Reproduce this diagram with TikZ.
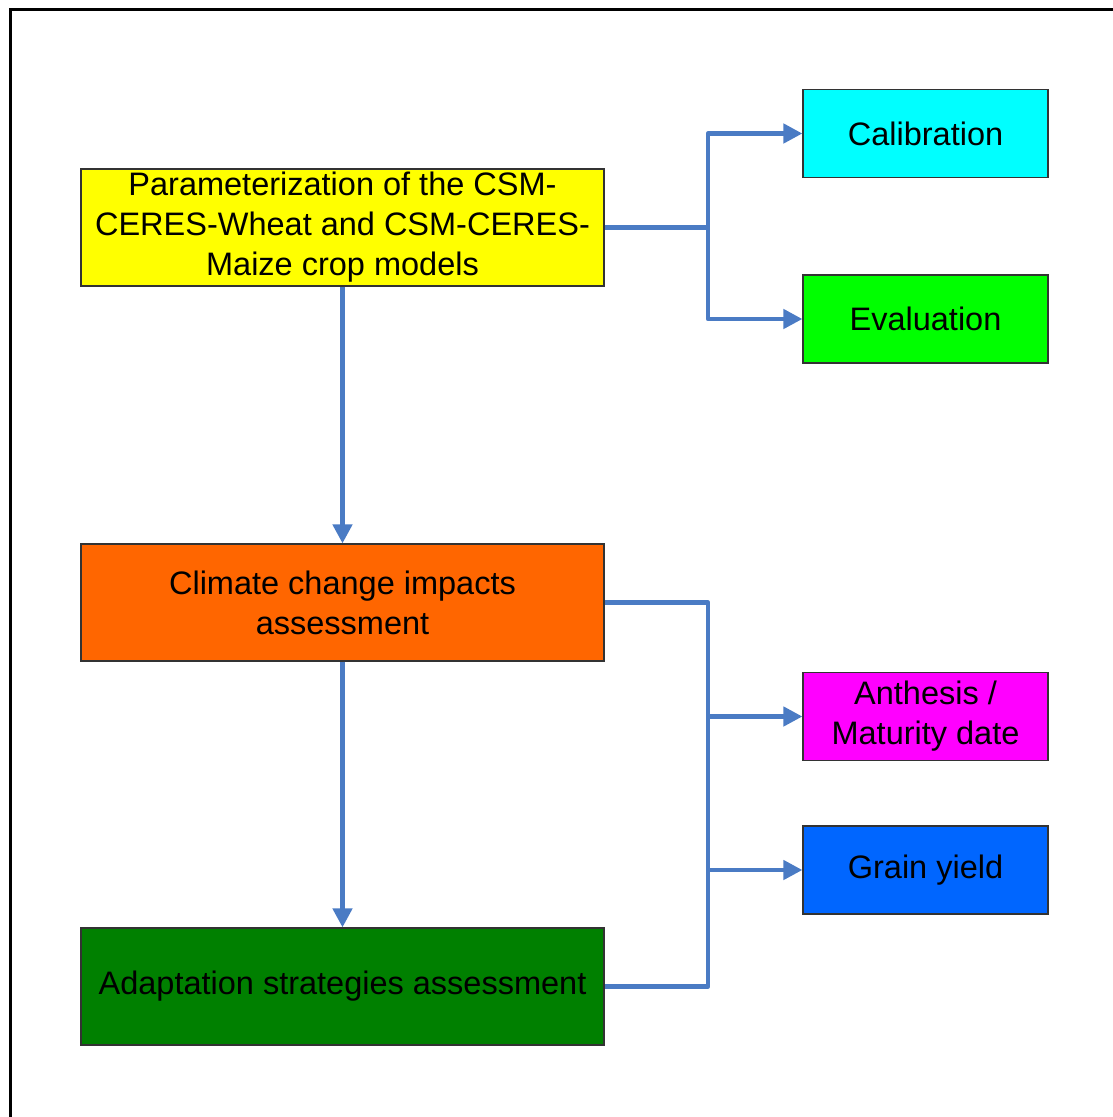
\documentclass[tikz,border=0pt]{standalone}
\usepackage{fontspec}
\setmainfont{Liberation Sans}
\usetikzlibrary{arrows.meta}
\definecolor{linkblue}{HTML}{4A7BC4}
\definecolor{paramyellow}{HTML}{FFFF00}
\definecolor{climorange}{HTML}{FF6600}
\definecolor{adaptgreen}{HTML}{008000}
\definecolor{calcyan}{HTML}{00FFFF}
\definecolor{evalgreen}{HTML}{00FF00}
\definecolor{anthmagenta}{HTML}{FF00FF}
\definecolor{grainblue}{HTML}{0066FF}
\begin{document}
\begin{tikzpicture}[x=1pt,y=-1pt,
  mainbox/.style={draw=black!80, line width=1.2pt, minimum width=523pt, minimum height=117pt,
    align=center, inner sep=0pt, font=\fontsize{32.5}{40}\selectfont},
  sidebox/.style={draw=black!80, line width=1.2pt, minimum width=245pt, minimum height=88pt,
    align=center, inner sep=0pt, font=\fontsize{32.5}{40}\selectfont},
  link/.style={draw=linkblue, line width=4.5pt, line join=round},
  linkarrow/.style={link, -{Triangle[length=19pt,width=19pt]}}]
\useasboundingbox (0,0) rectangle (1112,1117);
% outer frame
\draw[line width=3pt] (10.5,1140) -- (10.5,9.5) -- (1140,9.5);
% main column
\node[mainbox, fill=paramyellow] (param) at (342.5,227.5)
  {Parameterization of the CSM-\\CERES-Wheat and CSM-CERES-\\Maize crop models};
\node[mainbox, fill=climorange] (clim) at (342.5,602.5)
  {Climate change impacts\\assessment};
\node[mainbox, fill=adaptgreen] (adapt) at (342.5,986.5)
  {Adaptation strategies assessment};
% side boxes
\node[sidebox, fill=calcyan] (cal) at (925.5,133.5) {Calibration};
\node[sidebox, fill=evalgreen] (eval) at (925.5,319) {Evaluation};
\node[sidebox, fill=anthmagenta] (anth) at (925.5,716.5) {Anthesis /\\Maturity date};
\node[sidebox, fill=grainblue] (grain) at (925.5,870) {Grain yield};
% junction points
\coordinate (j1) at (708,227.5);
\coordinate (j2top) at (708,602.5);
\coordinate (j2bot) at (708,986.5);
% connectors
\draw[linkarrow] (param.south) -- (clim.north);
\draw[linkarrow] (clim.south) -- (adapt.north);
\draw[link] (param.east) -- (j1);
\draw[linkarrow] (j1) |- (cal.west);
\draw[linkarrow] (j1) |- (eval.west);
\draw[link] (clim.east) -- (j2top) -- (j2bot) -- (adapt.east);
\draw[linkarrow] (j2top |- anth.west) -- (anth.west);
\draw[linkarrow] (j2top |- grain.west) -- (grain.west);
\end{tikzpicture}
\end{document}
